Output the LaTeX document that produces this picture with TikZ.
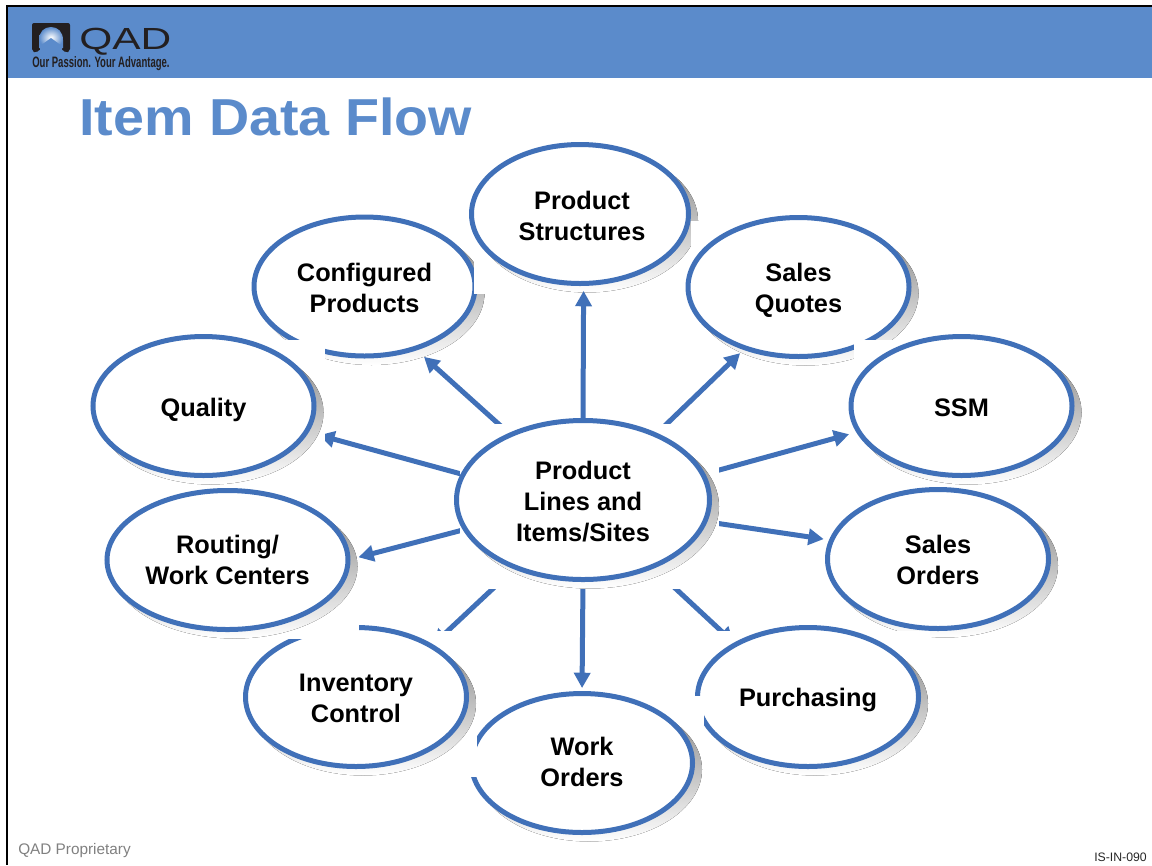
\documentclass[tikz,border=0pt]{standalone}
\usepackage{fontspec}
\setmainfont{Liberation Sans}
\newfontfamily\titlef[BoldFeatures={FakeStretch=1.07}]{Liberation Sans}
\usetikzlibrary{shapes.geometric,arrows.meta}
\definecolor{band}{HTML}{5B8BCB}
\definecolor{stroke}{HTML}{4070B8}
\definecolor{shade}{HTML}{C9C9C9}
\definecolor{logo}{HTML}{231F20}
\pgfdeclarelayer{arrowlayer}
\pgfdeclarelayer{frontarrows}
\pgfdeclarelayer{hublayer}
\pgfsetlayers{arrowlayer,main,frontarrows,hublayer}
\tikzset{
  x=0.75pt,y=-0.75pt,
  bubble/.style={ellipse,draw=stroke,fill=white,line width=3.75pt,inner sep=0pt,outer sep=0pt,
    align=center,font=\fontsize{19}{23.25}\selectfont\bfseries,text=black},
  flow/.style={draw=stroke,line width=3.75pt,-{Triangle[length=11.5pt,width=12pt]}},
  mask/.style={fill=white},
}
% name, x, y, x radius, y radius, text, downward shift of the text in pt
\newcommand\bub[7]{%
  \fill[shade] ({#2+7},{#3+6.5}) ellipse [x radius=#4+2.5,y radius=#5+2.5];
  \node[bubble,minimum width={#4*1.5pt},minimum height={#5*1.5pt}] (#1) at (#2,#3)
    {\rule{0pt}{\dimexpr 18.6pt+#7pt*2\relax}#6\rule[-5pt]{0pt}{5pt}};
}
\begin{document}
\begin{tikzpicture}
\useasboundingbox (0,0) rectangle (1152,865);
% header and frame
\fill[band] (7,6) rectangle (1152,78);
\fill[black] (6,5) rectangle (1152,7);
\fill[black] (6,5) rectangle (8,865);
% logo
\fill[logo,rounded corners=1.5pt] (32,23) -- (70,23) -- (70,51) -- (66,53) -- (62,49) -- (40,49) -- (36,53) -- (32,51) -- cycle;
\shade[inner color=white,outer color=band] (39,48) -- (39,40) .. controls (39,32) and (44,27) .. (51,27) .. controls (58,27) and (63,32) .. (63,40) -- (63,48) -- cycle;
\fill[band] (40,46) -- (51,38) -- (62,46) -- (62,54) -- (40,54) -- cycle;
\node[anchor=base west,inner sep=0pt,text=logo] (qad) at (79,49) {\resizebox{69pt}{16pt}{QAD}};
\node[anchor=base west,inner sep=0pt,text=logo] (tag) at (32,67) {\resizebox{103pt}{8.2pt}{\bfseries Our Passion. Your Advantage.}};
% title
\node[anchor=base west,inner sep=0pt,text=band] (title) at (79,135) {\fontsize{39}{44}\selectfont\titlef\bfseries Item Data Flow};
% bubbles, in stacking order, each over the white box of its picture
\bub{conf}{364.5}{286.5}{110.5}{69.5}{Configured\\Products}{0.94}
\fill[mask] (474,142) rectangle (490,294);
\bub{prod}{580}{214}{108.5}{69.5}{\hspace*{3pt}Product\\\hspace*{3pt}Structures}{1.1}
\fill[mask] (691,221) rectangle (925,340);
\bub{quote}{798.5}{287}{110.5}{69.5}{Sales\\Quotes}{0.4}
\fill[mask] (854,340) rectangle (1085,485);
\bub{ssm}{961.5}{406}{110.5}{69.5}{SSM}{0.75}
\fill[mask] (85,340) rectangle (325,485);
\bub{qual}{203.5}{406}{110.5}{69.5}{Quality}{0.75}
\bub{sord}{938}{559}{110.5}{69.5}{Sales\\Orders}{0.4}
\fill[mask] (695,631) rectangle (930,775);
\bub{purch}{808}{697}{110.5}{69.5}{Purchasing}{0.4}
\fill[mask] (600,696) rectangle (704,830);
\bub{word}{582}{763}{110.5}{69.5}{Work\\Orders}{-0.75}
\fill[mask] (240,631) rectangle (477,777);
\bub{inv}{356}{697}{110.5}{69.5}{Inventory\\Control}{0.75}
\fill[mask] (95,487) rectangle (359,639);
\bub{rout}{227.5}{560}{120.5}{69.5}{Routing/\\Work Centers}{0}
\begin{pgfonlayer}{hublayer}
\fill[mask] (460,424) rectangle (719,589);
\bub{hub}{583}{500}{126.5}{79.5}{Product\\Lines and\\Items/Sites}{0.75}
\end{pgfonlayer}
% connectors
\begin{pgfonlayer}{frontarrows}
\draw[flow,shorten >=5.6pt] (hub.90) -- (prod.-87.5);
\draw[flow,shorten >=9.4pt] (hub.138.6) -- (conf.-51.3);
\draw[flow,shorten >=5.6pt] (hub.42.7) -- (quote.-131.1);
\end{pgfonlayer}
\begin{pgfonlayer}{arrowlayer}
\draw[flow,shorten >=7.5pt] (hub.12) -- (ssm.-166.2);
\draw[flow,shorten >=6pt] (hub.-10.7) -- (sord.170.5);
\draw[flow,shorten >=2pt] (hub.-44.4) -- (purch.144.5);
\draw[flow,shorten >=4.1pt] (hub.-90) -- (word.90);
\draw[flow,shorten >=1.6pt] (hub.-135) -- (inv.34.7);
\draw[flow,shorten >=8.1pt] (hub.-166.3) -- (rout.0.6);
\draw[flow,shorten >=10.1pt] (hub.168.6) -- (qual.-14.6);
\end{pgfonlayer}
% footer
\node[anchor=base west,inner sep=0pt,text=black!50,font=\fontsize{11.5}{13}\selectfont] (foot) at (18,854) {QAD Proprietary};
\node[anchor=base east,inner sep=0pt,text=black!85,font=\fontsize{9.2}{11}\selectfont] (code) at (1147,861) {IS-IN-090};
\end{tikzpicture}
\end{document}
